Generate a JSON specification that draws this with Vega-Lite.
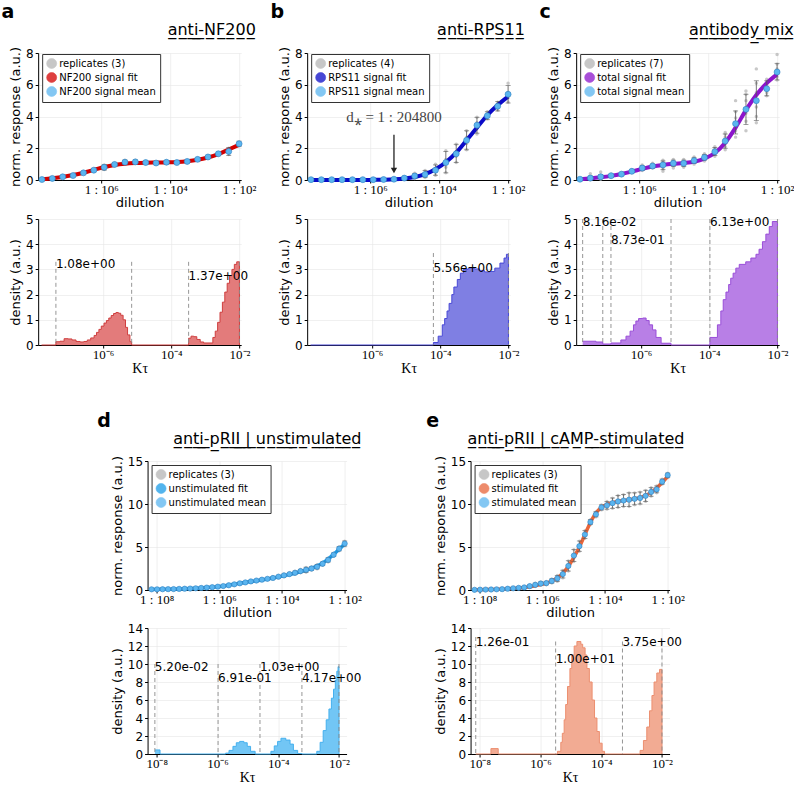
{
  "$schema": "https://vega.github.io/schema/vega-lite/v6.json",
  "background": "white",
  "padding": {"left": 1, "top": 3, "right": 0, "bottom": 0},
  "datasets": {
    "A": [
      {"d": 100, "m": 2.28, "f": 2.22, "lo": 2.1, "hi": 2.45, "r": [2.2, 2.3, 2.38]},
      {"d": 200, "m": 1.8, "f": 1.92, "lo": 1.55, "hi": 2.05, "r": [1.6, 1.8, 2.0]},
      {"d": 400, "m": 1.65, "f": 1.63, "lo": 1.55, "hi": 1.75, "r": [1.58, 1.65, 1.72]},
      {"d": 800, "m": 1.45, "f": 1.42, "lo": 1.35, "hi": 1.55, "r": [1.38, 1.45, 1.53]},
      {"d": 1600, "m": 1.3, "f": 1.27, "lo": 1.22, "hi": 1.38, "r": [1.25, 1.3, 1.36]},
      {"d": 3200, "m": 1.17, "f": 1.18, "lo": 1.08, "hi": 1.25, "r": [1.1, 1.17, 1.24]},
      {"d": 6400, "m": 1.1, "f": 1.13, "lo": 1.04, "hi": 1.17, "r": [1.05, 1.1, 1.15]},
      {"d": 12800, "m": 1.12, "f": 1.11, "lo": 1.02, "hi": 1.22, "r": [1.04, 1.12, 1.2]},
      {"d": 25600, "m": 1.07, "f": 1.1, "lo": 1.0, "hi": 1.13, "r": [1.02, 1.07, 1.12]},
      {"d": 51200, "m": 1.1, "f": 1.09, "lo": 1.02, "hi": 1.18, "r": [1.03, 1.1, 1.17]},
      {"d": 102400, "m": 1.14, "f": 1.07, "lo": 1.02, "hi": 1.26, "r": [1.05, 1.12, 1.25]},
      {"d": 204800, "m": 1.12, "f": 1.03, "lo": 0.98, "hi": 1.26, "r": [1.0, 1.12, 1.24]},
      {"d": 409600, "m": 0.98, "f": 0.95, "lo": 0.88, "hi": 1.08, "r": [0.9, 0.98, 1.06]},
      {"d": 819200, "m": 0.8, "f": 0.82, "lo": 0.62, "hi": 0.98, "r": [0.66, 0.8, 0.95]},
      {"d": 1638400, "m": 0.62, "f": 0.64, "lo": 0.55, "hi": 0.7, "r": [0.57, 0.62, 0.68]},
      {"d": 3276800, "m": 0.45, "f": 0.46, "lo": 0.38, "hi": 0.52, "r": [0.4, 0.45, 0.5]},
      {"d": 6553600, "m": 0.28, "f": 0.31, "lo": 0.24, "hi": 0.32, "r": [0.25, 0.28, 0.31]},
      {"d": 13107200, "m": 0.2, "f": 0.19, "lo": 0.17, "hi": 0.23, "r": [0.18, 0.2, 0.22]},
      {"d": 26214400, "m": 0.1, "f": 0.11, "lo": 0.08, "hi": 0.12, "r": [0.08, 0.1, 0.12]},
      {"d": 52428800, "m": 0.03, "f": 0.05, "lo": 0.02, "hi": 0.05, "r": [0.02, 0.03, 0.05]}
    ],
    "B": [
      {"d": 100, "m": 5.4, "f": 5.25, "lo": 4.85, "hi": 5.95, "r": [4.9, 5.2, 5.5, 6.1]},
      {"d": 200, "m": 4.65, "f": 4.72, "lo": 4.35, "hi": 4.95, "r": [4.4, 4.6, 4.75, 4.9]},
      {"d": 400, "m": 4.05, "f": 4.08, "lo": 3.8, "hi": 4.3, "r": [3.85, 4.0, 4.1, 4.3]},
      {"d": 800, "m": 3.45, "f": 3.3, "lo": 2.95, "hi": 3.95, "r": [2.9, 3.3, 3.6, 3.95]},
      {"d": 1600, "m": 2.5, "f": 2.5, "lo": 1.9, "hi": 3.1, "r": [1.9, 2.3, 2.7, 3.1]},
      {"d": 3200, "m": 1.65, "f": 1.72, "lo": 1.1, "hi": 2.25, "r": [1.1, 1.5, 1.8, 2.25]},
      {"d": 6400, "m": 1.1, "f": 1.12, "lo": 0.45, "hi": 1.8, "r": [0.45, 0.8, 1.3, 1.85]},
      {"d": 12800, "m": 0.62, "f": 0.68, "lo": 0.3, "hi": 0.95, "r": [0.3, 0.5, 0.7, 1.0]},
      {"d": 25600, "m": 0.35, "f": 0.37, "lo": 0.15, "hi": 0.6, "r": [0.15, 0.3, 0.4, 0.6]},
      {"d": 51200, "m": 0.25, "f": 0.19, "lo": 0.1, "hi": 0.42, "r": [0.1, 0.2, 0.3, 0.42]},
      {"d": 102400, "m": 0.12, "f": 0.09, "lo": 0.05, "hi": 0.2, "r": [0.05, 0.1, 0.15, 0.2]},
      {"d": 204800, "m": 0.05, "f": 0.04, "lo": 0.02, "hi": 0.08, "r": [0.02, 0.04, 0.06, 0.08]},
      {"d": 409600, "m": 0.03, "f": 0.02, "lo": 0.01, "hi": 0.05, "r": [0.01, 0.02, 0.04, 0.05]},
      {"d": 819200, "m": 0.02, "f": 0.01, "lo": 0.0, "hi": 0.04, "r": [0.0, 0.02, 0.03, 0.04]},
      {"d": 1638400, "m": 0.02, "f": 0.0, "lo": 0.0, "hi": 0.04, "r": [0.0, 0.01, 0.03, 0.04]},
      {"d": 3276800, "m": 0.02, "f": 0.0, "lo": 0.0, "hi": 0.04, "r": [0.0, 0.01, 0.03, 0.04]},
      {"d": 6553600, "m": 0.02, "f": 0.0, "lo": 0.0, "hi": 0.04, "r": [0.0, 0.01, 0.03, 0.04]},
      {"d": 13107200, "m": 0.02, "f": 0.0, "lo": 0.0, "hi": 0.04, "r": [0.0, 0.01, 0.03, 0.04]},
      {"d": 26214400, "m": 0.02, "f": 0.0, "lo": 0.0, "hi": 0.04, "r": [0.0, 0.01, 0.03, 0.04]},
      {"d": 52428800, "m": 0.02, "f": 0.0, "lo": 0.0, "hi": 0.04, "r": [0.0, 0.01, 0.03, 0.04]}
    ],
    "Bnote": [{"d": 204800, "ty": 4.0, "a0": 2.85, "a1": 0.75, "ah": 0.6, "t": "d⁎ = 1 : 204800"}],
    "C": [
      {"d": 100, "m": 6.8, "f": 6.65, "lo": 6.3, "hi": 7.35, "r": [6.3, 6.5, 6.7, 6.8, 7.0, 7.3, 7.9]},
      {"d": 200, "m": 5.75, "f": 6.1, "lo": 5.3, "hi": 6.25, "r": [5.3, 5.5, 5.7, 5.8, 6.0, 6.2, 6.35]},
      {"d": 400, "m": 5.0, "f": 5.35, "lo": 3.75, "hi": 6.25, "r": [3.6, 4.0, 4.6, 5.0, 5.5, 6.1, 7.0]},
      {"d": 800, "m": 4.45, "f": 4.4, "lo": 3.5, "hi": 5.4, "r": [3.1, 3.7, 4.2, 4.5, 5.0, 5.4, 5.6]},
      {"d": 1600, "m": 3.55, "f": 3.3, "lo": 2.9, "hi": 4.35, "r": [2.7, 3.1, 3.4, 3.6, 3.9, 4.3, 5.0]},
      {"d": 3200, "m": 2.45, "f": 2.35, "lo": 2.0, "hi": 2.9, "r": [1.9, 2.1, 2.3, 2.5, 2.7, 2.9, 3.0]},
      {"d": 6400, "m": 1.78, "f": 1.7, "lo": 1.55, "hi": 2.05, "r": [1.5, 1.6, 1.7, 1.8, 1.9, 2.0, 2.1]},
      {"d": 12800, "m": 1.42, "f": 1.35, "lo": 1.25, "hi": 1.6, "r": [1.2, 1.3, 1.4, 1.45, 1.5, 1.6, 1.65]},
      {"d": 25600, "m": 1.22, "f": 1.15, "lo": 1.05, "hi": 1.4, "r": [1.0, 1.1, 1.2, 1.25, 1.3, 1.4, 1.45]},
      {"d": 51200, "m": 1.05, "f": 1.07, "lo": 0.85, "hi": 1.25, "r": [0.8, 0.9, 1.0, 1.05, 1.15, 1.25, 1.3]},
      {"d": 102400, "m": 1.05, "f": 1.02, "lo": 0.85, "hi": 1.25, "r": [0.75, 0.9, 1.0, 1.1, 1.15, 1.25, 1.3]},
      {"d": 204800, "m": 0.95, "f": 0.95, "lo": 0.65, "hi": 1.2, "r": [0.55, 0.7, 0.9, 1.0, 1.1, 1.2, 1.25]},
      {"d": 409600, "m": 0.88, "f": 0.85, "lo": 0.75, "hi": 1.0, "r": [0.75, 0.8, 0.85, 0.9, 0.95, 1.0, 1.05]},
      {"d": 819200, "m": 0.75, "f": 0.7, "lo": 0.6, "hi": 0.9, "r": [0.6, 0.65, 0.7, 0.75, 0.8, 0.9, 0.95]},
      {"d": 1638400, "m": 0.55, "f": 0.53, "lo": 0.45, "hi": 0.65, "r": [0.45, 0.5, 0.52, 0.55, 0.6, 0.62, 0.65]},
      {"d": 3276800, "m": 0.37, "f": 0.38, "lo": 0.3, "hi": 0.45, "r": [0.3, 0.33, 0.35, 0.37, 0.4, 0.42, 0.45]},
      {"d": 6553600, "m": 0.27, "f": 0.26, "lo": 0.2, "hi": 0.35, "r": [0.2, 0.22, 0.25, 0.27, 0.3, 0.33, 0.36]},
      {"d": 13107200, "m": 0.2, "f": 0.17, "lo": 0.08, "hi": 0.35, "r": [0.05, 0.1, 0.15, 0.2, 0.25, 0.3, 0.5]},
      {"d": 26214400, "m": 0.12, "f": 0.1, "lo": 0.05, "hi": 0.25, "r": [0.02, 0.05, 0.1, 0.12, 0.15, 0.2, 0.4]},
      {"d": 52428800, "m": 0.05, "f": 0.05, "lo": 0.0, "hi": 0.1, "r": [0.0, 0.02, 0.04, 0.05, 0.06, 0.08, 0.1]}
    ],
    "D": [
      {"d": 100, "m": 5.4, "f": 5.35, "lo": 5.1, "hi": 5.7, "r": [5.15, 5.4, 5.7]},
      {"d": 150, "m": 4.8, "f": 4.75, "lo": 4.55, "hi": 5.05, "r": [4.55, 4.8, 5.05]},
      {"d": 225, "m": 4.1, "f": 4.15, "lo": 3.9, "hi": 4.3, "r": [3.9, 4.15, 4.3]},
      {"d": 337.5, "m": 3.5, "f": 3.6, "lo": 3.25, "hi": 3.75, "r": [3.25, 3.5, 3.75]},
      {"d": 506.25, "m": 3.05, "f": 3.15, "lo": 2.85, "hi": 3.25, "r": [2.85, 3.05, 3.25]},
      {"d": 759.38, "m": 2.7, "f": 2.8, "lo": 2.45, "hi": 2.95, "r": [2.45, 2.7, 2.95]},
      {"d": 1139.06, "m": 2.5, "f": 2.52, "lo": 2.3, "hi": 2.7, "r": [2.3, 2.55, 2.7]},
      {"d": 1708.59, "m": 2.35, "f": 2.3, "lo": 2.05, "hi": 2.65, "r": [2.05, 2.35, 2.65]},
      {"d": 2562.89, "m": 2.2, "f": 2.12, "lo": 2.0, "hi": 2.4, "r": [2.0, 2.2, 2.4]},
      {"d": 3844.34, "m": 2.0, "f": 1.95, "lo": 1.8, "hi": 2.2, "r": [1.8, 2.0, 2.2]},
      {"d": 5766.5, "m": 1.85, "f": 1.8, "lo": 1.7, "hi": 2.0, "r": [1.7, 1.85, 2.0]},
      {"d": 8649.76, "m": 1.7, "f": 1.66, "lo": 1.55, "hi": 1.85, "r": [1.55, 1.7, 1.85]},
      {"d": 12974.63, "m": 1.55, "f": 1.52, "lo": 1.4, "hi": 1.7, "r": [1.4, 1.55, 1.7]},
      {"d": 19461.95, "m": 1.4, "f": 1.4, "lo": 1.28, "hi": 1.52, "r": [1.28, 1.4, 1.52]},
      {"d": 29192.93, "m": 1.3, "f": 1.28, "lo": 1.2, "hi": 1.4, "r": [1.2, 1.3, 1.4]},
      {"d": 43789.39, "m": 1.2, "f": 1.17, "lo": 1.1, "hi": 1.3, "r": [1.1, 1.2, 1.3]},
      {"d": 65684.08, "m": 1.1, "f": 1.07, "lo": 1.0, "hi": 1.2, "r": [1.0, 1.1, 1.2]},
      {"d": 98526.12, "m": 1.0, "f": 0.98, "lo": 0.92, "hi": 1.08, "r": [0.92, 1.0, 1.08]},
      {"d": 147789.2, "m": 0.88, "f": 0.88, "lo": 0.8, "hi": 0.96, "r": [0.8, 0.88, 0.96]},
      {"d": 221683.8, "m": 0.78, "f": 0.78, "lo": 0.7, "hi": 0.86, "r": [0.7, 0.78, 0.86]},
      {"d": 332525.7, "m": 0.66, "f": 0.67, "lo": 0.6, "hi": 0.72, "r": [0.6, 0.66, 0.72]},
      {"d": 498788.5, "m": 0.55, "f": 0.56, "lo": 0.5, "hi": 0.6, "r": [0.5, 0.55, 0.6]},
      {"d": 748182.8, "m": 0.46, "f": 0.47, "lo": 0.41, "hi": 0.51, "r": [0.41, 0.46, 0.51]},
      {"d": 1122274, "m": 0.39, "f": 0.39, "lo": 0.34, "hi": 0.44, "r": [0.34, 0.39, 0.44]},
      {"d": 1683411, "m": 0.33, "f": 0.33, "lo": 0.29, "hi": 0.37, "r": [0.29, 0.33, 0.37]},
      {"d": 2525117, "m": 0.28, "f": 0.28, "lo": 0.24, "hi": 0.32, "r": [0.24, 0.28, 0.32]},
      {"d": 3787675, "m": 0.24, "f": 0.24, "lo": 0.2, "hi": 0.28, "r": [0.2, 0.24, 0.28]},
      {"d": 5681513, "m": 0.2, "f": 0.2, "lo": 0.17, "hi": 0.23, "r": [0.17, 0.2, 0.23]},
      {"d": 8522269, "m": 0.17, "f": 0.17, "lo": 0.14, "hi": 0.2, "r": [0.14, 0.17, 0.2]},
      {"d": 12783404, "m": 0.15, "f": 0.15, "lo": 0.12, "hi": 0.18, "r": [0.12, 0.15, 0.18]},
      {"d": 19175106, "m": 0.13, "f": 0.13, "lo": 0.1, "hi": 0.16, "r": [0.1, 0.13, 0.16]},
      {"d": 28762659, "m": 0.11, "f": 0.11, "lo": 0.08, "hi": 0.14, "r": [0.08, 0.11, 0.14]},
      {"d": 43143988, "m": 0.1, "f": 0.1, "lo": 0.07, "hi": 0.13, "r": [0.07, 0.1, 0.13]},
      {"d": 64715983, "m": 0.09, "f": 0.09, "lo": 0.06, "hi": 0.12, "r": [0.06, 0.09, 0.12]},
      {"d": 97073974, "m": 0.08, "f": 0.08, "lo": 0.05, "hi": 0.11, "r": [0.05, 0.08, 0.11]},
      {"d": 145610961, "m": 0.08, "f": 0.07, "lo": 0.05, "hi": 0.11, "r": [0.05, 0.08, 0.11]}
    ],
    "E": [
      {"d": 100, "m": 13.35, "f": 13.2, "lo": 13.05, "hi": 13.6, "r": [13.1, 13.35, 13.6]},
      {"d": 150, "m": 12.6, "f": 12.5, "lo": 12.3, "hi": 12.9, "r": [12.3, 12.6, 12.9]},
      {"d": 225, "m": 11.7, "f": 11.85, "lo": 11.3, "hi": 12.1, "r": [11.3, 11.7, 12.1]},
      {"d": 337.5, "m": 11.4, "f": 11.35, "lo": 10.9, "hi": 11.9, "r": [10.9, 11.4, 11.9]},
      {"d": 506.25, "m": 10.95, "f": 11.0, "lo": 10.3, "hi": 11.6, "r": [10.3, 10.95, 11.6]},
      {"d": 759.38, "m": 10.7, "f": 10.75, "lo": 10.0, "hi": 11.4, "r": [10.0, 10.7, 11.4]},
      {"d": 1139.06, "m": 10.6, "f": 10.6, "lo": 9.9, "hi": 11.3, "r": [9.9, 10.6, 11.3]},
      {"d": 1708.59, "m": 10.5, "f": 10.5, "lo": 9.7, "hi": 11.3, "r": [9.7, 10.5, 11.3]},
      {"d": 2562.89, "m": 10.4, "f": 10.4, "lo": 9.7, "hi": 11.1, "r": [9.7, 10.4, 11.1]},
      {"d": 3844.34, "m": 10.3, "f": 10.3, "lo": 9.6, "hi": 11.0, "r": [9.6, 10.3, 11.0]},
      {"d": 5766.5, "m": 10.1, "f": 10.15, "lo": 9.5, "hi": 10.7, "r": [9.5, 10.1, 10.7]},
      {"d": 8649.76, "m": 9.85, "f": 9.95, "lo": 9.4, "hi": 10.3, "r": [9.4, 9.85, 10.3]},
      {"d": 12974.63, "m": 9.6, "f": 9.6, "lo": 9.3, "hi": 9.9, "r": [9.3, 9.6, 9.9]},
      {"d": 19461.95, "m": 8.8, "f": 8.95, "lo": 8.5, "hi": 9.1, "r": [8.5, 8.8, 9.1]},
      {"d": 29192.93, "m": 7.9, "f": 7.85, "lo": 7.6, "hi": 8.2, "r": [7.6, 7.9, 8.2]},
      {"d": 43789.39, "m": 6.45, "f": 6.45, "lo": 6.0, "hi": 6.9, "r": [6.0, 6.45, 6.9]},
      {"d": 65684.08, "m": 5.1, "f": 5.0, "lo": 4.5, "hi": 5.7, "r": [4.5, 5.1, 5.7]},
      {"d": 98526.12, "m": 4.0, "f": 3.8, "lo": 3.3, "hi": 4.7, "r": [3.3, 4.0, 4.7]},
      {"d": 147789.2, "m": 2.8, "f": 2.75, "lo": 2.2, "hi": 3.4, "r": [2.2, 2.8, 3.4]},
      {"d": 221683.8, "m": 1.85, "f": 1.95, "lo": 1.4, "hi": 2.3, "r": [1.4, 1.85, 2.3]},
      {"d": 332525.7, "m": 1.35, "f": 1.4, "lo": 1.0, "hi": 1.7, "r": [1.0, 1.35, 1.7]},
      {"d": 498788.5, "m": 1.05, "f": 1.05, "lo": 0.8, "hi": 1.3, "r": [0.8, 1.05, 1.3]},
      {"d": 748182.8, "m": 0.8, "f": 0.8, "lo": 0.6, "hi": 1.0, "r": [0.6, 0.8, 1.0]},
      {"d": 1122274, "m": 0.75, "f": 0.62, "lo": 0.55, "hi": 0.95, "r": [0.55, 0.75, 0.95]},
      {"d": 1683411, "m": 0.6, "f": 0.48, "lo": 0.4, "hi": 0.8, "r": [0.4, 0.6, 0.8]},
      {"d": 2525117, "m": 0.45, "f": 0.37, "lo": 0.3, "hi": 0.6, "r": [0.3, 0.45, 0.6]},
      {"d": 3787675, "m": 0.3, "f": 0.28, "lo": 0.2, "hi": 0.4, "r": [0.2, 0.3, 0.4]},
      {"d": 5681513, "m": 0.25, "f": 0.22, "lo": 0.15, "hi": 0.35, "r": [0.15, 0.25, 0.35]},
      {"d": 8522269, "m": 0.2, "f": 0.17, "lo": 0.12, "hi": 0.28, "r": [0.12, 0.2, 0.28]},
      {"d": 12783404, "m": 0.15, "f": 0.13, "lo": 0.08, "hi": 0.22, "r": [0.08, 0.15, 0.22]},
      {"d": 19175106, "m": 0.1, "f": 0.1, "lo": 0.05, "hi": 0.15, "r": [0.05, 0.1, 0.15]},
      {"d": 28762659, "m": 0.08, "f": 0.08, "lo": 0.04, "hi": 0.12, "r": [0.04, 0.08, 0.12]},
      {"d": 43143988, "m": 0.06, "f": 0.06, "lo": 0.03, "hi": 0.1, "r": [0.03, 0.06, 0.1]},
      {"d": 64715983, "m": 0.05, "f": 0.05, "lo": 0.02, "hi": 0.08, "r": [0.02, 0.05, 0.08]},
      {"d": 97073974, "m": 0.04, "f": 0.04, "lo": 0.01, "hi": 0.07, "r": [0.01, 0.04, 0.07]},
      {"d": 145610961, "m": 0.02, "f": 0.03, "lo": 0.0, "hi": 0.05, "r": [0.0, 0.02, 0.05]}
    ],
    "HA": [
      {"k": -7.8, "p": 0}, {"k": -7.38, "p": 0.13}, {"k": -7.26, "p": 0.15}, {"k": -7.14, "p": 0.25}, {"k": -7.02, "p": 0.24},
      {"k": -6.91, "p": 0.2}, {"k": -6.79, "p": 0.14}, {"k": -6.67, "p": 0.12}, {"k": -6.56, "p": 0.14}, {"k": -6.46, "p": 0.2},
      {"k": -6.36, "p": 0.28}, {"k": -6.26, "p": 0.38}, {"k": -6.19, "p": 0.5}, {"k": -6.12, "p": 0.62}, {"k": -6.05, "p": 0.75},
      {"k": -5.97, "p": 0.87}, {"k": -5.9, "p": 0.97}, {"k": -5.83, "p": 1.07}, {"k": -5.76, "p": 1.17}, {"k": -5.69, "p": 1.25},
      {"k": -5.62, "p": 1.29}, {"k": -5.55, "p": 1.26}, {"k": -5.48, "p": 1.18}, {"k": -5.41, "p": 1.0}, {"k": -5.34, "p": 0.7},
      {"k": -5.28, "p": 0.4}, {"k": -5.21, "p": 0.13}, {"k": -5.16, "p": 0},
      {"k": -3.49, "p": 0.27}, {"k": -3.42, "p": 0.35}, {"k": -3.34, "p": 0.33}, {"k": -3.25, "p": 0.22}, {"k": -3.15, "p": 0.12},
      {"k": -3.05, "p": 0.08}, {"k": -2.78, "p": 0.3}, {"k": -2.71, "p": 0.55}, {"k": -2.64, "p": 0.9}, {"k": -2.57, "p": 1.3},
      {"k": -2.5, "p": 1.7}, {"k": -2.43, "p": 2.1}, {"k": -2.36, "p": 2.45}, {"k": -2.29, "p": 2.75}, {"k": -2.22, "p": 3.0},
      {"k": -2.15, "p": 3.2}, {"k": -2.08, "p": 3.3}, {"k": -2.0, "p": 0}
    ],
    "LA": [{"k": -7.38, "h": 3.3}, {"k": -5.16, "h": 3.3}, {"k": -3.49, "h": 3.3}, {"k": -2.0, "h": 3.3}],
    "TA": [{"k": -7.38, "y": 3.22, "t": "1.08e+00"}, {"k": -3.49, "y": 2.75, "t": "1.37e+00"}],
    "HB": [
      {"k": -7.8, "p": 0}, {"k": -4.2, "p": 0.1}, {"k": -4.06, "p": 0.35}, {"k": -3.94, "p": 0.8}, {"k": -3.87, "p": 1.05},
      {"k": -3.8, "p": 1.35}, {"k": -3.74, "p": 1.65}, {"k": -3.66, "p": 2.0}, {"k": -3.6, "p": 2.3}, {"k": -3.5, "p": 2.6},
      {"k": -3.41, "p": 2.85}, {"k": -3.32, "p": 3.0}, {"k": -3.18, "p": 3.05}, {"k": -3.0, "p": 3.02}, {"k": -2.85, "p": 2.95},
      {"k": -2.7, "p": 2.9}, {"k": -2.55, "p": 2.92}, {"k": -2.4, "p": 3.05}, {"k": -2.25, "p": 3.25}, {"k": -2.13, "p": 3.45},
      {"k": -2.06, "p": 3.6}, {"k": -2.0, "p": 0}
    ],
    "LB": [{"k": -4.2, "h": 3.65}, {"k": -2.0, "h": 3.65}],
    "TB": [{"k": -4.2, "y": 3.05, "t": "5.56e+00"}],
    "HC": [
      {"k": -7.71, "p": 0.15}, {"k": -7.32, "p": 0.12}, {"k": -7.12, "p": 0.04}, {"k": -6.88, "p": 0.08}, {"k": -6.59, "p": 0.2},
      {"k": -6.44, "p": 0.35}, {"k": -6.32, "p": 0.55}, {"k": -6.22, "p": 0.8}, {"k": -6.15, "p": 0.95}, {"k": -6.07, "p": 1.05},
      {"k": -5.95, "p": 1.07}, {"k": -5.85, "p": 0.97}, {"k": -5.76, "p": 0.8}, {"k": -5.66, "p": 0.6}, {"k": -5.56, "p": 0.3},
      {"k": -5.41, "p": 0.07}, {"k": -5.12, "p": 0},
      {"k": -3.98, "p": 0.3}, {"k": -3.76, "p": 0.8}, {"k": -3.66, "p": 1.35}, {"k": -3.59, "p": 1.8}, {"k": -3.51, "p": 2.1},
      {"k": -3.43, "p": 2.4}, {"k": -3.37, "p": 2.65}, {"k": -3.3, "p": 2.85}, {"k": -3.22, "p": 3.05}, {"k": -3.12, "p": 3.2},
      {"k": -2.93, "p": 3.3}, {"k": -2.78, "p": 3.45}, {"k": -2.63, "p": 3.6}, {"k": -2.54, "p": 3.8}, {"k": -2.44, "p": 4.1},
      {"k": -2.34, "p": 4.4}, {"k": -2.24, "p": 4.7}, {"k": -2.15, "p": 4.9}, {"k": -2.0, "p": 0}
    ],
    "LC": [{"k": -7.71, "h": 5}, {"k": -7.12, "h": 5}, {"k": -6.88, "h": 5}, {"k": -5.12, "h": 5}, {"k": -3.98, "h": 5}, {"k": -2.0, "h": 5}],
    "TC": [{"k": -7.71, "y": 4.9, "t": "8.16e-02"}, {"k": -6.88, "y": 4.15, "t": "8.73e-01"}, {"k": -3.98, "y": 4.9, "t": "6.13e+00"}],
    "HD": [
      {"k": -8.06, "p": 0.45}, {"k": -7.89, "p": 0},
      {"k": -5.73, "p": 0.1}, {"k": -5.62, "p": 0.4}, {"k": -5.49, "p": 0.85}, {"k": -5.38, "p": 1.25}, {"k": -5.27, "p": 1.4},
      {"k": -5.13, "p": 1.25}, {"k": -5.02, "p": 0.85}, {"k": -4.91, "p": 0.3}, {"k": -4.76, "p": 0},
      {"k": -4.24, "p": 0.3}, {"k": -4.13, "p": 0.9}, {"k": -4.02, "p": 1.4}, {"k": -3.91, "p": 1.75}, {"k": -3.75, "p": 1.55},
      {"k": -3.61, "p": 1.1}, {"k": -3.5, "p": 0.4}, {"k": -3.36, "p": 0.05}, {"k": -3.22, "p": 0},
      {"k": -2.73, "p": 0.3}, {"k": -2.62, "p": 1.3}, {"k": -2.52, "p": 2.6}, {"k": -2.42, "p": 3.8}, {"k": -2.33, "p": 5.0},
      {"k": -2.25, "p": 6.2}, {"k": -2.18, "p": 7.2}, {"k": -2.12, "p": 8.2}, {"k": -2.07, "p": 9.2}, {"k": -2.03, "p": 9.7},
      {"k": -2.0, "p": 0}
    ],
    "LD": [{"k": -8.06, "h": 10}, {"k": -5.98, "h": 10}, {"k": -4.6, "h": 10}, {"k": -3.22, "h": 10}, {"k": -2.0, "h": 10}],
    "TD": [{"k": -8.06, "y": 9.7, "t": "5.20e-02"}, {"k": -5.98, "y": 8.4, "t": "6.91e-01"}, {"k": -4.6, "y": 9.7, "t": "1.03e+00"}, {"k": -3.22, "y": 8.4, "t": "4.17e+00"}],
    "HE": [
      {"k": -8.13, "p": 0}, {"k": -7.63, "p": 0.6}, {"k": -7.39, "p": 0},
      {"k": -5.44, "p": 0.3}, {"k": -5.33, "p": 1.3}, {"k": -5.28, "p": 2.3}, {"k": -5.22, "p": 3.8}, {"k": -5.17, "p": 5.5},
      {"k": -5.11, "p": 7.5}, {"k": -5.03, "p": 9.5}, {"k": -4.97, "p": 11.0}, {"k": -4.89, "p": 12.0}, {"k": -4.8, "p": 12.5},
      {"k": -4.67, "p": 12.2}, {"k": -4.61, "p": 11.8}, {"k": -4.53, "p": 11.0}, {"k": -4.47, "p": 9.5}, {"k": -4.39, "p": 8.0},
      {"k": -4.3, "p": 6.0}, {"k": -4.22, "p": 4.0}, {"k": -4.14, "p": 2.5}, {"k": -4.06, "p": 1.2}, {"k": -3.97, "p": 0.3},
      {"k": -3.89, "p": 0},
      {"k": -2.72, "p": 0.4}, {"k": -2.61, "p": 1.5}, {"k": -2.5, "p": 3.0}, {"k": -2.41, "p": 4.8}, {"k": -2.33, "p": 6.5},
      {"k": -2.26, "p": 8.0}, {"k": -2.17, "p": 9.0}, {"k": -2.08, "p": 9.4}, {"k": -2.0, "p": 0}
    ],
    "LE": [{"k": -8.13, "h": 13}, {"k": -5.5, "h": 12.5}, {"k": -3.3, "h": 12.5}, {"k": -2.0, "h": 12.5}],
    "TE": [{"k": -8.13, "y": 12.5, "t": "1.26e-01"}, {"k": -5.5, "y": 10.6, "t": "1.00e+01"}, {"k": -3.3, "y": 12.5, "t": "3.75e+00"}]
  },
  "vconcat": [
    {
      "hconcat": [
        {
          "title": {"text": "a", "anchor": "start", "fontSize": 19, "fontWeight": "bold", "offset": 0, "dx": -8},
          "spacing": 4,
          "vconcat": [
            {
              "width": 203, "height": 127,
              "title": {"text": "a\u0332n\u0332t\u0332i\u0332-\u0332N\u0332F\u03322\u03320\u03320\u0332", "anchor": "end", "fontSize": 16, "offset": 8},
              "data": {"name": "A"},
              "encoding": {"x": {"field": "d", "type": "quantitative", "scale": {"type": "log", "domain": [87, 67600000], "reverse": true},
                "axis": {"values": [1000000, 10000, 100], "title": "dilution", "labelExpr": "'1 : 10' + ['⁰','¹','²','³','⁴','⁵','⁶','⁷','⁸'][round(log(datum.value)/LN10)]"}}},
              "layer": [
                {"transform": [{"flatten": ["r"]}], "mark": {"type": "point", "filled": true, "size": 12, "opacity": 0.75},
                 "encoding": {"y": {"field": "r", "type": "quantitative", "title": "norm. response (a.u.)", "scale": {"domain": [0, 8], "nice": false}, "axis": {"values": [0, 2, 4, 6, 8]}},
                   "color": {"datum": "replicates (3)", "scale": {"domain": ["replicates (3)", "NF200 signal fit", "NF200 signal mean"], "range": ["#b5b5b5", "#d40000", "#5ab5f0"]},
                     "legend": {"title": null, "orient": "none", "legendX": 4, "legendY": 1}}}},
                {"mark": {"type": "line", "interpolate": "monotone", "strokeWidth": 4},
                 "encoding": {"y": {"field": "f", "type": "quantitative", "title": "norm. response (a.u.)", "scale": {"domain": [0, 8], "nice": false}, "axis": {"values": [0, 2, 4, 6, 8]}}, "color": {"datum": "NF200 signal fit"}}},
                {"mark": {"type": "rule", "color": "#555", "strokeWidth": 0.8},
                 "encoding": {"y": {"field": "lo", "type": "quantitative", "title": "norm. response (a.u.)", "scale": {"domain": [0, 8], "nice": false}, "axis": {"values": [0, 2, 4, 6, 8]}}, "y2": {"field": "hi"}}},
                {"mark": {"type": "tick", "orient": "horizontal", "size": 5, "thickness": 0.8, "color": "#555"},
                 "encoding": {"y": {"field": "lo", "type": "quantitative", "title": "norm. response (a.u.)", "scale": {"domain": [0, 8], "nice": false}, "axis": {"values": [0, 2, 4, 6, 8]}}}},
                {"mark": {"type": "tick", "orient": "horizontal", "size": 5, "thickness": 0.8, "color": "#555"},
                 "encoding": {"y": {"field": "hi", "type": "quantitative", "title": "norm. response (a.u.)", "scale": {"domain": [0, 8], "nice": false}, "axis": {"values": [0, 2, 4, 6, 8]}}}},
                {"mark": {"type": "point", "filled": true, "size": 36, "opacity": 1, "stroke": "#2f7fc0", "strokeWidth": 0.6},
                 "encoding": {"y": {"field": "m", "type": "quantitative", "title": "norm. response (a.u.)", "scale": {"domain": [0, 8], "nice": false}, "axis": {"values": [0, 2, 4, 6, 8]}}, "color": {"datum": "NF200 signal mean"}}}
              ]
            },
            {
              "width": 203, "height": 126,
              "encoding": {"x": {"field": "k", "type": "quantitative", "scale": {"domain": [-7.9, -1.95], "nice": false},
                "axis": {"values": [-6, -4, -2], "title": "Kτ", "titleFont": "Liberation Serif", "titleFontSize": 14, "labelExpr": "'10' + ['⁰','⁻¹','⁻²','⁻³','⁻⁴','⁻⁵','⁻⁶','⁻⁷','⁻⁸'][-datum.value]"}}},
              "layer": [
                {"data": {"name": "HA"}, "mark": {"type": "area", "interpolate": "step-after", "color": "#e37b7b", "opacity": 1, "line": {"color": "#cf3f3f", "strokeWidth": 1}},
                 "encoding": {"y": {"field": "p", "type": "quantitative", "title": "density (a.u.)", "scale": {"domain": [0, 5], "nice": false}, "axis": {"values": [0, 1, 2, 3, 4, 5]}}}},
                {"data": {"name": "LA"}, "mark": {"type": "rule", "color": "#8a8a8a", "strokeDash": [4, 3], "strokeWidth": 0.9},
                 "encoding": {"y": {"field": "h", "type": "quantitative", "title": "density (a.u.)", "scale": {"domain": [0, 5], "nice": false}, "axis": {"values": [0, 1, 2, 3, 4, 5]}}, "y2": {"datum": 0}}},
                {"data": {"name": "TA"}, "mark": {"type": "text", "align": "left", "baseline": "middle", "fontSize": 12},
                 "encoding": {"y": {"field": "y", "type": "quantitative", "title": "density (a.u.)", "scale": {"domain": [0, 5], "nice": false}, "axis": {"values": [0, 1, 2, 3, 4, 5]}}, "text": {"field": "t"}}}
              ]
            }
          ]
        },
        {
          "title": {"text": "b", "anchor": "start", "fontSize": 19, "fontWeight": "bold", "offset": 0, "dx": -8},
          "spacing": 4,
          "vconcat": [
            {
              "width": 203, "height": 127,
              "title": {"text": "a\u0332n\u0332t\u0332i\u0332-\u0332R\u0332P\u0332S\u03321\u03321\u0332", "anchor": "end", "fontSize": 16, "offset": 8},
              "data": {"name": "B"},
              "encoding": {"x": {"field": "d", "type": "quantitative", "scale": {"type": "log", "domain": [87, 67600000], "reverse": true},
                "axis": {"values": [1000000, 10000, 100], "title": "dilution", "labelExpr": "'1 : 10' + ['⁰','¹','²','³','⁴','⁵','⁶','⁷','⁸'][round(log(datum.value)/LN10)]"}}},
              "layer": [
                {"transform": [{"flatten": ["r"]}], "mark": {"type": "point", "filled": true, "size": 12, "opacity": 0.75},
                 "encoding": {"y": {"field": "r", "type": "quantitative", "title": "norm. response (a.u.)", "scale": {"domain": [0, 8], "nice": false}, "axis": {"values": [0, 2, 4, 6, 8]}},
                   "color": {"datum": "replicates (4)", "scale": {"domain": ["replicates (4)", "RPS11 signal fit", "RPS11 signal mean"], "range": ["#b5b5b5", "#0a0ac8", "#5ab5f0"]},
                     "legend": {"title": null, "orient": "none", "legendX": 4, "legendY": 1}}}},
                {"mark": {"type": "line", "interpolate": "monotone", "strokeWidth": 4},
                 "encoding": {"y": {"field": "f", "type": "quantitative", "title": "norm. response (a.u.)", "scale": {"domain": [0, 8], "nice": false}, "axis": {"values": [0, 2, 4, 6, 8]}}, "color": {"datum": "RPS11 signal fit"}}},
                {"mark": {"type": "rule", "color": "#555", "strokeWidth": 0.8},
                 "encoding": {"y": {"field": "lo", "type": "quantitative", "title": "norm. response (a.u.)", "scale": {"domain": [0, 8], "nice": false}, "axis": {"values": [0, 2, 4, 6, 8]}}, "y2": {"field": "hi"}}},
                {"mark": {"type": "tick", "orient": "horizontal", "size": 5, "thickness": 0.8, "color": "#555"},
                 "encoding": {"y": {"field": "lo", "type": "quantitative", "title": "norm. response (a.u.)", "scale": {"domain": [0, 8], "nice": false}, "axis": {"values": [0, 2, 4, 6, 8]}}}},
                {"mark": {"type": "tick", "orient": "horizontal", "size": 5, "thickness": 0.8, "color": "#555"},
                 "encoding": {"y": {"field": "hi", "type": "quantitative", "title": "norm. response (a.u.)", "scale": {"domain": [0, 8], "nice": false}, "axis": {"values": [0, 2, 4, 6, 8]}}}},
                {"mark": {"type": "point", "filled": true, "size": 36, "opacity": 1, "stroke": "#2f7fc0", "strokeWidth": 0.6},
                 "encoding": {"y": {"field": "m", "type": "quantitative", "title": "norm. response (a.u.)", "scale": {"domain": [0, 8], "nice": false}, "axis": {"values": [0, 2, 4, 6, 8]}}, "color": {"datum": "RPS11 signal mean"}}},
                {"data": {"name": "Bnote"}, "mark": {"type": "text", "align": "center", "baseline": "middle", "font": "Liberation Serif", "fontSize": 15, "color": "#444"},
                 "encoding": {"y": {"field": "ty", "type": "quantitative", "title": "norm. response (a.u.)", "scale": {"domain": [0, 8], "nice": false}, "axis": {"values": [0, 2, 4, 6, 8]}}, "text": {"field": "t"}}},
                {"data": {"name": "Bnote"}, "mark": {"type": "rule", "color": "#222", "strokeWidth": 1.3},
                 "encoding": {"y": {"field": "a0", "type": "quantitative", "title": "norm. response (a.u.)", "scale": {"domain": [0, 8], "nice": false}, "axis": {"values": [0, 2, 4, 6, 8]}}, "y2": {"field": "a1"}}},
                {"data": {"name": "Bnote"}, "mark": {"type": "point", "shape": "triangle-down", "filled": true, "size": 40, "color": "#222", "opacity": 1},
                 "encoding": {"y": {"field": "ah", "type": "quantitative", "title": "norm. response (a.u.)", "scale": {"domain": [0, 8], "nice": false}, "axis": {"values": [0, 2, 4, 6, 8]}}}}
              ]
            },
            {
              "width": 203, "height": 126,
              "encoding": {"x": {"field": "k", "type": "quantitative", "scale": {"domain": [-7.9, -1.95], "nice": false},
                "axis": {"values": [-6, -4, -2], "title": "Kτ", "titleFont": "Liberation Serif", "titleFontSize": 14, "labelExpr": "'10' + ['⁰','⁻¹','⁻²','⁻³','⁻⁴','⁻⁵','⁻⁶','⁻⁷','⁻⁸'][-datum.value]"}}},
              "layer": [
                {"data": {"name": "HB"}, "mark": {"type": "area", "interpolate": "step-after", "color": "#7f7fe3", "opacity": 1, "line": {"color": "#4848d6", "strokeWidth": 1}},
                 "encoding": {"y": {"field": "p", "type": "quantitative", "title": "density (a.u.)", "scale": {"domain": [0, 5], "nice": false}, "axis": {"values": [0, 1, 2, 3, 4, 5]}}}},
                {"data": {"name": "LB"}, "mark": {"type": "rule", "color": "#8a8a8a", "strokeDash": [4, 3], "strokeWidth": 0.9},
                 "encoding": {"y": {"field": "h", "type": "quantitative", "title": "density (a.u.)", "scale": {"domain": [0, 5], "nice": false}, "axis": {"values": [0, 1, 2, 3, 4, 5]}}, "y2": {"datum": 0}}},
                {"data": {"name": "TB"}, "mark": {"type": "text", "align": "left", "baseline": "middle", "fontSize": 12},
                 "encoding": {"y": {"field": "y", "type": "quantitative", "title": "density (a.u.)", "scale": {"domain": [0, 5], "nice": false}, "axis": {"values": [0, 1, 2, 3, 4, 5]}}, "text": {"field": "t"}}}
              ]
            }
          ]
        },
        {
          "title": {"text": "c", "anchor": "start", "fontSize": 19, "fontWeight": "bold", "offset": 0, "dx": -8},
          "spacing": 4,
          "vconcat": [
            {
              "width": 203, "height": 127,
              "title": {"text": "a\u0332n\u0332t\u0332i\u0332b\u0332o\u0332d\u0332y\u0332 \u0332m\u0332i\u0332x\u0332", "anchor": "end", "fontSize": 16, "offset": 8},
              "data": {"name": "C"},
              "encoding": {"x": {"field": "d", "type": "quantitative", "scale": {"type": "log", "domain": [87, 67600000], "reverse": true},
                "axis": {"values": [1000000, 10000, 100], "title": "dilution", "labelExpr": "'1 : 10' + ['⁰','¹','²','³','⁴','⁵','⁶','⁷','⁸'][round(log(datum.value)/LN10)]"}}},
              "layer": [
                {"transform": [{"flatten": ["r"]}], "mark": {"type": "point", "filled": true, "size": 12, "opacity": 0.75},
                 "encoding": {"y": {"field": "r", "type": "quantitative", "title": "norm. response (a.u.)", "scale": {"domain": [0, 8], "nice": false}, "axis": {"values": [0, 2, 4, 6, 8]}},
                   "color": {"datum": "replicates (7)", "scale": {"domain": ["replicates (7)", "total signal fit", "total signal mean"], "range": ["#b5b5b5", "#8c14cc", "#5ab5f0"]},
                     "legend": {"title": null, "orient": "none", "legendX": 4, "legendY": 1}}}},
                {"mark": {"type": "line", "interpolate": "monotone", "strokeWidth": 4},
                 "encoding": {"y": {"field": "f", "type": "quantitative", "title": "norm. response (a.u.)", "scale": {"domain": [0, 8], "nice": false}, "axis": {"values": [0, 2, 4, 6, 8]}}, "color": {"datum": "total signal fit"}}},
                {"mark": {"type": "rule", "color": "#555", "strokeWidth": 0.8},
                 "encoding": {"y": {"field": "lo", "type": "quantitative", "title": "norm. response (a.u.)", "scale": {"domain": [0, 8], "nice": false}, "axis": {"values": [0, 2, 4, 6, 8]}}, "y2": {"field": "hi"}}},
                {"mark": {"type": "tick", "orient": "horizontal", "size": 5, "thickness": 0.8, "color": "#555"},
                 "encoding": {"y": {"field": "lo", "type": "quantitative", "title": "norm. response (a.u.)", "scale": {"domain": [0, 8], "nice": false}, "axis": {"values": [0, 2, 4, 6, 8]}}}},
                {"mark": {"type": "tick", "orient": "horizontal", "size": 5, "thickness": 0.8, "color": "#555"},
                 "encoding": {"y": {"field": "hi", "type": "quantitative", "title": "norm. response (a.u.)", "scale": {"domain": [0, 8], "nice": false}, "axis": {"values": [0, 2, 4, 6, 8]}}}},
                {"mark": {"type": "point", "filled": true, "size": 36, "opacity": 1, "stroke": "#2f7fc0", "strokeWidth": 0.6},
                 "encoding": {"y": {"field": "m", "type": "quantitative", "title": "norm. response (a.u.)", "scale": {"domain": [0, 8], "nice": false}, "axis": {"values": [0, 2, 4, 6, 8]}}, "color": {"datum": "total signal mean"}}}
              ]
            },
            {
              "width": 203, "height": 126,
              "encoding": {"x": {"field": "k", "type": "quantitative", "scale": {"domain": [-7.9, -1.95], "nice": false},
                "axis": {"values": [-6, -4, -2], "title": "Kτ", "titleFont": "Liberation Serif", "titleFontSize": 14, "labelExpr": "'10' + ['⁰','⁻¹','⁻²','⁻³','⁻⁴','⁻⁵','⁻⁶','⁻⁷','⁻⁸'][-datum.value]"}}},
              "layer": [
                {"data": {"name": "HC"}, "mark": {"type": "area", "interpolate": "step-after", "color": "#b87fe6", "opacity": 1, "line": {"color": "#9a4fd8", "strokeWidth": 1}},
                 "encoding": {"y": {"field": "p", "type": "quantitative", "title": "density (a.u.)", "scale": {"domain": [0, 5], "nice": false}, "axis": {"values": [0, 1, 2, 3, 4, 5]}}}},
                {"data": {"name": "LC"}, "mark": {"type": "rule", "color": "#8a8a8a", "strokeDash": [4, 3], "strokeWidth": 0.9},
                 "encoding": {"y": {"field": "h", "type": "quantitative", "title": "density (a.u.)", "scale": {"domain": [0, 5], "nice": false}, "axis": {"values": [0, 1, 2, 3, 4, 5]}}, "y2": {"datum": 0}}},
                {"data": {"name": "TC"}, "mark": {"type": "text", "align": "left", "baseline": "middle", "fontSize": 12},
                 "encoding": {"y": {"field": "y", "type": "quantitative", "title": "density (a.u.)", "scale": {"domain": [0, 5], "nice": false}, "axis": {"values": [0, 1, 2, 3, 4, 5]}}, "text": {"field": "t"}}}
              ]
            }
          ]
        }
      ],
      "spacing": 14,
      "resolve": {"scale": {"color": "independent"}, "legend": {"color": "independent"}}
    },
    {
      "hconcat": [
        {
          "title": {"text": "d", "anchor": "start", "fontSize": 19, "fontWeight": "bold", "offset": 0, "dx": -14},
          "spacing": 3,
          "vconcat": [
            {
              "width": 199, "height": 129,
              "title": {"text": "a\u0332n\u0332t\u0332i\u0332-\u0332p\u0332R\u0332I\u0332I\u0332 \u0332|\u0332 \u0332u\u0332n\u0332s\u0332t\u0332i\u0332m\u0332u\u0332l\u0332a\u0332t\u0332e\u0332d\u0332", "anchor": "end", "fontSize": 16, "offset": 8},
              "data": {"name": "D"},
              "encoding": {"x": {"field": "d", "type": "quantitative", "scale": {"type": "log", "domain": [87, 195000000], "reverse": true},
                "axis": {"values": [100000000, 1000000, 10000, 100], "title": "dilution", "labelExpr": "'1 : 10' + ['⁰','¹','²','³','⁴','⁵','⁶','⁷','⁸'][round(log(datum.value)/LN10)]"}}},
              "layer": [
                {"transform": [{"flatten": ["r"]}], "mark": {"type": "point", "filled": true, "size": 10, "opacity": 0.75},
                 "encoding": {"y": {"field": "r", "type": "quantitative", "title": "norm. response (a.u.)", "scale": {"domain": [0, 15], "nice": false}, "axis": {"values": [0, 5, 10, 15]}},
                   "color": {"datum": "replicates (3)", "scale": {"domain": ["replicates (3)", "unstimulated fit", "unstimulated mean"], "range": ["#b5b5b5", "#1a9be8", "#5ab5f0"]},
                     "legend": {"title": null, "orient": "none", "legendX": 4, "legendY": 4}}}},
                {"mark": {"type": "line", "interpolate": "monotone", "strokeWidth": 3.5},
                 "encoding": {"y": {"field": "f", "type": "quantitative", "title": "norm. response (a.u.)", "scale": {"domain": [0, 15], "nice": false}, "axis": {"values": [0, 5, 10, 15]}}, "color": {"datum": "unstimulated fit"}}},
                {"mark": {"type": "rule", "color": "#555", "strokeWidth": 0.8},
                 "encoding": {"y": {"field": "lo", "type": "quantitative", "title": "norm. response (a.u.)", "scale": {"domain": [0, 15], "nice": false}, "axis": {"values": [0, 5, 10, 15]}}, "y2": {"field": "hi"}}},
                {"mark": {"type": "tick", "orient": "horizontal", "size": 5, "thickness": 0.8, "color": "#555"},
                 "encoding": {"y": {"field": "lo", "type": "quantitative", "title": "norm. response (a.u.)", "scale": {"domain": [0, 15], "nice": false}, "axis": {"values": [0, 5, 10, 15]}}}},
                {"mark": {"type": "tick", "orient": "horizontal", "size": 5, "thickness": 0.8, "color": "#555"},
                 "encoding": {"y": {"field": "hi", "type": "quantitative", "title": "norm. response (a.u.)", "scale": {"domain": [0, 15], "nice": false}, "axis": {"values": [0, 5, 10, 15]}}}},
                {"mark": {"type": "point", "filled": true, "size": 28, "opacity": 1, "stroke": "#2f7fc0", "strokeWidth": 0.6},
                 "encoding": {"y": {"field": "m", "type": "quantitative", "title": "norm. response (a.u.)", "scale": {"domain": [0, 15], "nice": false}, "axis": {"values": [0, 5, 10, 15]}}, "color": {"datum": "unstimulated mean"}}}
              ]
            },
            {
              "width": 199, "height": 126,
              "encoding": {"x": {"field": "k", "type": "quantitative", "scale": {"domain": [-8.3, -1.75], "nice": false},
                "axis": {"values": [-8, -6, -4, -2], "title": "Kτ", "titleFont": "Liberation Serif", "titleFontSize": 14, "labelExpr": "'10' + ['⁰','⁻¹','⁻²','⁻³','⁻⁴','⁻⁵','⁻⁶','⁻⁷','⁻⁸'][-datum.value]"}}},
              "layer": [
                {"data": {"name": "HD"}, "mark": {"type": "area", "interpolate": "step-after", "color": "#72c6f5", "opacity": 1, "line": {"color": "#45b0ee", "strokeWidth": 1}},
                 "encoding": {"y": {"field": "p", "type": "quantitative", "title": "density (a.u.)", "scale": {"domain": [0, 14], "nice": false}, "axis": {"values": [0, 2, 4, 6, 8, 10, 12, 14]}}}},
                {"data": {"name": "LD"}, "mark": {"type": "rule", "color": "#8a8a8a", "strokeDash": [4, 3], "strokeWidth": 0.9},
                 "encoding": {"y": {"field": "h", "type": "quantitative", "title": "density (a.u.)", "scale": {"domain": [0, 14], "nice": false}, "axis": {"values": [0, 2, 4, 6, 8, 10, 12, 14]}}, "y2": {"datum": 0}}},
                {"data": {"name": "TD"}, "mark": {"type": "text", "align": "left", "baseline": "middle", "fontSize": 12},
                 "encoding": {"y": {"field": "y", "type": "quantitative", "title": "density (a.u.)", "scale": {"domain": [0, 14], "nice": false}, "axis": {"values": [0, 2, 4, 6, 8, 10, 12, 14]}}, "text": {"field": "t"}}}
              ]
            }
          ]
        },
        {
          "title": {"text": "e", "anchor": "start", "fontSize": 19, "fontWeight": "bold", "offset": 0, "dx": -8},
          "spacing": 3,
          "vconcat": [
            {
              "width": 199, "height": 129,
              "title": {"text": "a\u0332n\u0332t\u0332i\u0332-\u0332p\u0332R\u0332I\u0332I\u0332 \u0332|\u0332 \u0332c\u0332A\u0332M\u0332P\u0332-\u0332s\u0332t\u0332i\u0332m\u0332u\u0332l\u0332a\u0332t\u0332e\u0332d\u0332", "anchor": "end", "fontSize": 16, "offset": 8},
              "data": {"name": "E"},
              "encoding": {"x": {"field": "d", "type": "quantitative", "scale": {"type": "log", "domain": [87, 195000000], "reverse": true},
                "axis": {"values": [100000000, 1000000, 10000, 100], "title": "dilution", "labelExpr": "'1 : 10' + ['⁰','¹','²','³','⁴','⁵','⁶','⁷','⁸'][round(log(datum.value)/LN10)]"}}},
              "layer": [
                {"transform": [{"flatten": ["r"]}], "mark": {"type": "point", "filled": true, "size": 10, "opacity": 0.75},
                 "encoding": {"y": {"field": "r", "type": "quantitative", "title": "norm. response (a.u.)", "scale": {"domain": [0, 15], "nice": false}, "axis": {"values": [0, 5, 10, 15]}},
                   "color": {"datum": "replicates (3)", "scale": {"domain": ["replicates (3)", "stimulated fit", "stimulated mean"], "range": ["#b5b5b5", "#e8653a", "#5ab5f0"]},
                     "legend": {"title": null, "orient": "none", "legendX": 4, "legendY": 4}}}},
                {"mark": {"type": "line", "interpolate": "monotone", "strokeWidth": 3.5},
                 "encoding": {"y": {"field": "f", "type": "quantitative", "title": "norm. response (a.u.)", "scale": {"domain": [0, 15], "nice": false}, "axis": {"values": [0, 5, 10, 15]}}, "color": {"datum": "stimulated fit"}}},
                {"mark": {"type": "rule", "color": "#555", "strokeWidth": 0.8},
                 "encoding": {"y": {"field": "lo", "type": "quantitative", "title": "norm. response (a.u.)", "scale": {"domain": [0, 15], "nice": false}, "axis": {"values": [0, 5, 10, 15]}}, "y2": {"field": "hi"}}},
                {"mark": {"type": "tick", "orient": "horizontal", "size": 5, "thickness": 0.8, "color": "#555"},
                 "encoding": {"y": {"field": "lo", "type": "quantitative", "title": "norm. response (a.u.)", "scale": {"domain": [0, 15], "nice": false}, "axis": {"values": [0, 5, 10, 15]}}}},
                {"mark": {"type": "tick", "orient": "horizontal", "size": 5, "thickness": 0.8, "color": "#555"},
                 "encoding": {"y": {"field": "hi", "type": "quantitative", "title": "norm. response (a.u.)", "scale": {"domain": [0, 15], "nice": false}, "axis": {"values": [0, 5, 10, 15]}}}},
                {"mark": {"type": "point", "filled": true, "size": 28, "opacity": 1, "stroke": "#2f7fc0", "strokeWidth": 0.6},
                 "encoding": {"y": {"field": "m", "type": "quantitative", "title": "norm. response (a.u.)", "scale": {"domain": [0, 15], "nice": false}, "axis": {"values": [0, 5, 10, 15]}}, "color": {"datum": "stimulated mean"}}}
              ]
            },
            {
              "width": 199, "height": 126,
              "encoding": {"x": {"field": "k", "type": "quantitative", "scale": {"domain": [-8.3, -1.75], "nice": false},
                "axis": {"values": [-8, -6, -4, -2], "title": "Kτ", "titleFont": "Liberation Serif", "titleFontSize": 14, "labelExpr": "'10' + ['⁰','⁻¹','⁻²','⁻³','⁻⁴','⁻⁵','⁻⁶','⁻⁷','⁻⁸'][-datum.value]"}}},
              "layer": [
                {"data": {"name": "HE"}, "mark": {"type": "area", "interpolate": "step-after", "color": "#f2ab93", "opacity": 1, "line": {"color": "#ec8f70", "strokeWidth": 1}},
                 "encoding": {"y": {"field": "p", "type": "quantitative", "title": "density (a.u.)", "scale": {"domain": [0, 14], "nice": false}, "axis": {"values": [0, 2, 4, 6, 8, 10, 12, 14]}}}},
                {"data": {"name": "LE"}, "mark": {"type": "rule", "color": "#8a8a8a", "strokeDash": [4, 3], "strokeWidth": 0.9},
                 "encoding": {"y": {"field": "h", "type": "quantitative", "title": "density (a.u.)", "scale": {"domain": [0, 14], "nice": false}, "axis": {"values": [0, 2, 4, 6, 8, 10, 12, 14]}}, "y2": {"datum": 0}}},
                {"data": {"name": "TE"}, "mark": {"type": "text", "align": "left", "baseline": "middle", "fontSize": 12},
                 "encoding": {"y": {"field": "y", "type": "quantitative", "title": "density (a.u.)", "scale": {"domain": [0, 14], "nice": false}, "axis": {"values": [0, 2, 4, 6, 8, 10, 12, 14]}}, "text": {"field": "t"}}}
              ]
            }
          ]
        }
      ],
      "spacing": 64,
      "resolve": {"scale": {"color": "independent"}, "legend": {"color": "independent"}}
    }
  ],
  "spacing": 37,
  "center": true,
  "resolve": {"scale": {"color": "independent"}, "legend": {"color": "independent"}},
  "config": {
    "view": {"stroke": null},
    "font": "DejaVu Sans",
    "text": {"font": "DejaVu Sans", "color": "#000"},
    "title": {"font": "DejaVu Sans", "fontWeight": "normal", "color": "#000"},
    "axis": {
      "domainColor": "#000", "domainWidth": 1, "gridColor": "#e6e6e6", "gridWidth": 0.6,
      "tickColor": "#000", "tickSize": 3, "labelFont": "DejaVu Sans", "labelFontSize": 12, "labelColor": "#000",
      "titleFont": "DejaVu Sans", "titleFontSize": 13, "titleFontWeight": "normal", "titleColor": "#000", "labelFlush": false
    },
    "axisX": {"labelFont": "Liberation Serif", "labelFontSize": 13, "titlePadding": 0, "labelPadding": 0},
    "axisY": {"titlePadding": 3, "labelPadding": 2},
    "legend": {
      "strokeColor": "#333", "fillColor": "#fff", "padding": 4, "cornerRadius": 0,
      "labelFont": "DejaVu Sans", "labelFontSize": 10, "labelColor": "#000", "rowPadding": 1, "labelOffset": 2, "symbolStrokeWidth": 0.6
    }
  }
}
